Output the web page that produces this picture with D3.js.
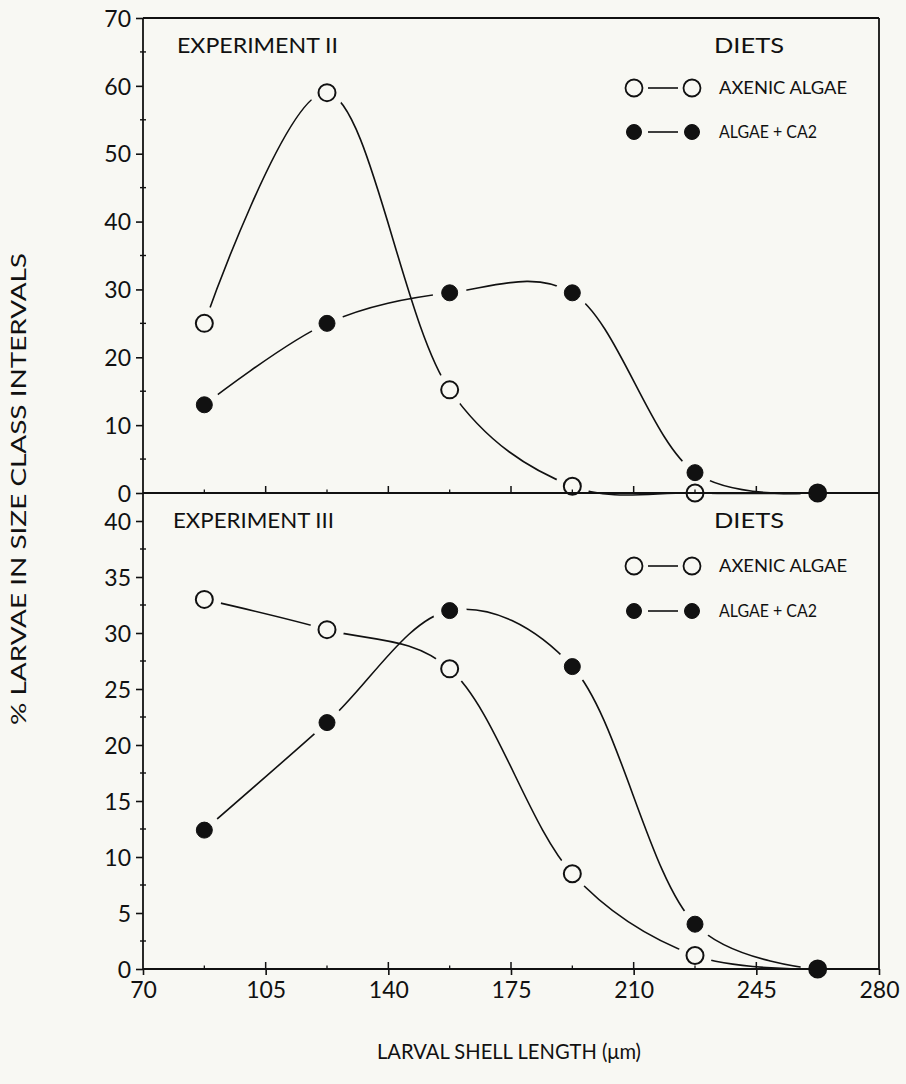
<!DOCTYPE html>
<html>
<head>
<meta charset="utf-8">
<script src="https://cdn.jsdelivr.net/npm/d3@7"></script>
<style>
  html, body { margin: 0; padding: 0; background: #f8f8f3; }
  svg { display: block; }
  text { font-family: Lato, "DejaVu Sans", sans-serif; fill: #111; }
</style>
</head>
<body>
<svg id="chart" width="906" height="1084"></svg>
<script>
// ---- data ----
const sizeClasses = [87.5, 122.5, 157.5, 192.5, 227.5, 262.5];
const exp2Axenic   = [25, 59, 15.2, 1, 0, 0];
const exp2AlgaeCA2 = [13, 25, 29.5, 29.5, 3, 0];
const exp3Axenic   = [33, 30.3, 26.8, 8.5, 1.2, 0];
const exp3AlgaeCA2 = [12.4, 22, 32, 27, 4, 0];
const xTicks = [70, 105, 140, 175, 210, 245, 280];
const yTicksTop = [0, 10, 20, 30, 40, 50, 60, 70];
const yTicksBottom = [0, 5, 10, 15, 20, 25, 30, 35, 40];
const legendLabels = ["AXENIC ALGAE", "ALGAE + CA2"];
const panelTitles = ["EXPERIMENT II", "EXPERIMENT III"];

// ---- layout ----
const svg = d3.select("#chart");
const L = 143, R = 879;
const x = d3.scaleLinear().domain([70, 280]).range([L, R]);
const yTop = d3.scaleLinear().domain([0, 70]).range([493, 18]);
const yBot = d3.scaleLinear().domain([0, 40]).range([969, 521]);
const ink = "#111";
const bg = "#f8f8f3";

const curve = d3.curveCatmullRom.alpha(0.3);

function drawSeries(y, vals, filled) {
  const pts = sizeClasses.map((c, i) => [x(c), y(vals[i])]);
  svg.append("path")
    .attr("d", d3.line().curve(curve)(pts))
    .attr("fill", "none").attr("stroke", ink).attr("stroke-width", 1.6);
  return pts.map(p => ({p, filled}));
}

const markers = [];
markers.push(...drawSeries(yTop, exp2Axenic, false));
markers.push(...drawSeries(yTop, exp2AlgaeCA2, true));
markers.push(...drawSeries(yBot, exp3Axenic, false));
markers.push(...drawSeries(yBot, exp3AlgaeCA2, true));

// gaps around markers
svg.append("g").selectAll("circle").data(markers).join("circle")
  .attr("cx", d => d.p[0]).attr("cy", d => d.p[1]).attr("r", 17)
  .attr("fill", bg);

// ---- axes / frame ----
const frame = svg.append("g").attr("stroke", ink).attr("stroke-width", 1.8).attr("fill", "none");
frame.append("line").attr("x1", L).attr("x2", R).attr("y1", yTop(70)).attr("y2", yTop(70));
frame.append("line").attr("x1", L).attr("x2", R).attr("y1", yTop(0)).attr("y2", yTop(0));
frame.append("line").attr("x1", L).attr("x2", R).attr("y1", yBot(0)).attr("y2", yBot(0));
frame.append("line").attr("x1", L).attr("x2", L).attr("y1", yTop(70)).attr("y2", yBot(0));
frame.append("line").attr("x1", R).attr("x2", R).attr("y1", yTop(70)).attr("y2", yBot(0));

function yAxis(scale, ticks, minorStep) {
  const g = svg.append("g").attr("transform", `translate(${L},0)`)
    .call(d3.axisLeft(scale).tickValues(ticks).tickSize(7).tickPadding(5).tickFormat(d3.format("d")));
  g.select(".domain").remove();
  g.selectAll(".tick line").attr("stroke", ink).attr("stroke-width", 1.6);
  g.selectAll(".tick text").attr("font-size", 23).attr("fill", ink).attr("dy", "0.36em");
  const d = scale.domain();
  const minors = d3.range(d[0] + minorStep, d[1], minorStep * 2);
  svg.append("g").selectAll("line").data(minors).join("line")
    .attr("x1", L - 3).attr("x2", L + 3)
    .attr("y1", v => scale(v)).attr("y2", v => scale(v))
    .attr("stroke", ink).attr("stroke-width", 1.4);
}
yAxis(yTop, yTicksTop, 5);
yAxis(yBot, yTicksBottom, 2.5);

function xTickMarks(yPos) {
  const g = svg.append("g");
  g.selectAll("line.maj").data(xTicks.slice(1, -1)).join("line")
    .attr("x1", v => x(v)).attr("x2", v => x(v))
    .attr("y1", yPos).attr("y2", yPos - 7)
    .attr("stroke", ink).attr("stroke-width", 1.5);
  const minors = d3.range(87.5, 280, 35);
  g.selectAll("line.min").data(minors).join("line")
    .attr("x1", v => x(v)).attr("x2", v => x(v))
    .attr("y1", yPos).attr("y2", yPos - 3.5)
    .attr("stroke", ink).attr("stroke-width", 1.3);
}
xTickMarks(yTop(0));
xTickMarks(yBot(0));
// bottom outward major ticks + labels
const xb = svg.append("g").attr("transform", `translate(0,${yBot(0)})`)
  .call(d3.axisBottom(x).tickValues(xTicks).tickSize(6).tickPadding(7).tickFormat(d3.format("d")));
xb.select(".domain").remove();
xb.selectAll(".tick line").attr("stroke", ink).attr("stroke-width", 1.6);
xb.selectAll(".tick text").attr("font-size", 23).attr("fill", ink);

// ---- markers ----
svg.append("g").selectAll("circle").data(markers).join("circle")
  .attr("cx", d => d.p[0]).attr("cy", d => d.p[1])
  .attr("r", d => d.filled ? 8 : 8.5)
  .attr("fill", d => d.filled ? ink : "none")
  .attr("stroke", ink).attr("stroke-width", d => d.filled ? 1 : 2);

// ---- panel titles & legends ----
function panelText(title, tx, ty, dietsY, row1Y, row2Y) {
  svg.append("text").attr("x", tx).attr("y", ty).attr("font-size", 21)
    .attr("textLength", 161).attr("lengthAdjust", "spacingAndGlyphs").text(title);
  svg.append("text").attr("x", 749).attr("y", dietsY).attr("font-size", 21)
    .attr("text-anchor", "middle").attr("textLength", 70).attr("lengthAdjust", "spacingAndGlyphs").text("DIETS");
  [row1Y, row2Y].forEach((ry, i) => {
    const filled = i === 1;
    [634, 692].forEach(cx => {
      svg.append("circle").attr("cx", cx).attr("cy", ry).attr("r", filled ? 7.5 : 8.5)
        .attr("fill", filled ? ink : "none").attr("stroke", ink).attr("stroke-width", filled ? 1 : 1.8);
    });
    svg.append("line").attr("x1", 648).attr("x2", 678).attr("y1", ry).attr("y2", ry)
      .attr("stroke", ink).attr("stroke-width", 1.6);
    svg.append("text").attr("x", 719).attr("y", ry + 6).attr("font-size", 17)
      .attr("textLength", filled ? 98 : 128).attr("lengthAdjust", "spacingAndGlyphs")
      .text(legendLabels[i]);
  });
}
panelText(panelTitles[0], 177, 53, 53, 88, 132);
panelText(panelTitles[1], 173, 528, 528, 566, 611);

// ---- axis titles ----
svg.append("text").attr("x", 509).attr("y", 1059).attr("font-size", 22)
  .attr("text-anchor", "middle").attr("textLength", 264).attr("lengthAdjust", "spacingAndGlyphs")
  .text("LARVAL SHELL LENGTH  (μm)");
svg.append("text").attr("transform", "translate(26,489) rotate(-90)").attr("font-size", 21)
  .attr("text-anchor", "middle").attr("textLength", 472).attr("lengthAdjust", "spacingAndGlyphs")
  .text("% LARVAE IN SIZE CLASS INTERVALS");
</script>
</body>
</html>
